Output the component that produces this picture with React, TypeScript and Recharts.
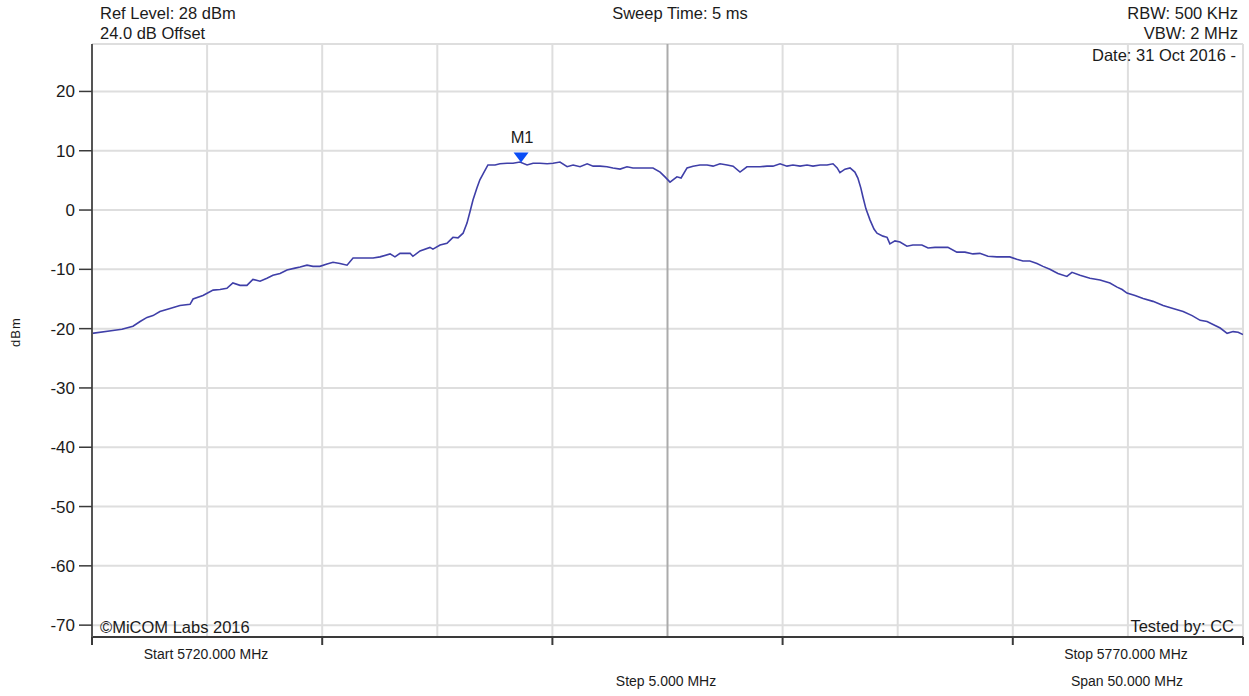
import React from "react";
import {
  LineChart,
  Line,
  XAxis,
  YAxis,
  CartesianGrid,
  ReferenceLine,
  ReferenceDot,
} from "recharts";

// Frequency (MHz) of each trace point
const freqs: number[] = [
  5720.0, 5720.91, 5721.3, 5721.78, 5722.09, 5722.39, 5722.65, 5722.95, 5723.39, 5723.82,
  5724.26, 5724.39, 5724.82, 5725.26, 5725.56, 5725.86, 5726.12, 5726.43, 5726.73, 5726.99,
  5727.3, 5727.6, 5727.86, 5728.17, 5728.47, 5728.82, 5729.04, 5729.34, 5729.6, 5729.9,
  5730.21, 5730.47, 5730.77, 5731.08, 5731.34, 5731.77, 5732.21, 5732.51, 5732.95, 5733.16,
  5733.38, 5733.82, 5733.94, 5734.25, 5734.68, 5734.81, 5735.12, 5735.42, 5735.68, 5735.9,
  5736.12, 5736.29, 5736.42, 5736.55, 5736.72, 5736.85, 5737.03, 5737.2, 5737.51, 5737.72,
  5738.03, 5738.29, 5738.59, 5738.9, 5739.16, 5739.46, 5739.77, 5740.03, 5740.33, 5740.64,
  5740.9, 5741.2, 5741.51, 5741.77, 5742.07, 5742.37, 5742.63, 5742.94, 5743.24, 5743.5,
  5743.81, 5744.11, 5744.37, 5744.68, 5744.89, 5745.11, 5745.28, 5745.41, 5745.59, 5745.85,
  5746.11, 5746.41, 5746.72, 5746.98, 5747.28, 5747.59, 5747.85, 5748.15, 5748.45, 5748.71,
  5749.02, 5749.32, 5749.58, 5749.89, 5750.19, 5750.45, 5750.76, 5751.06, 5751.32, 5751.63,
  5751.93, 5752.19, 5752.37, 5752.49, 5752.71, 5752.93, 5753.14, 5753.27, 5753.4, 5753.49,
  5753.62, 5753.8, 5753.97, 5754.1, 5754.36, 5754.54, 5754.66, 5754.88, 5755.1, 5755.4,
  5755.66, 5756.05, 5756.32, 5756.62, 5757.18, 5757.57, 5757.92, 5758.27, 5758.57, 5758.92,
  5759.31, 5759.87, 5760.17, 5760.44, 5760.74, 5761.05, 5761.31, 5761.61, 5761.96, 5762.35,
  5762.57, 5762.92, 5763.35, 5763.79, 5764.22, 5764.53, 5764.75, 5764.96, 5765.31, 5765.66,
  5766.09, 5766.53, 5766.96, 5767.4, 5767.79, 5768.14, 5768.44, 5768.7, 5769.01, 5769.31,
  5769.57, 5769.79, 5770.0,
];

// Measured level (dBm) of each trace point
const levels: number[] = [
  -20.8, -20.3, -20.1, -19.6, -18.8, -18.1, -17.8, -17.1, -16.6, -16.1,
  -15.9, -15.0, -14.4, -13.5, -13.4, -13.2, -12.3, -12.7, -12.7, -11.7,
  -12.0, -11.5, -11.0, -10.7, -10.1, -9.8, -9.6, -9.3, -9.5, -9.5,
  -9.1, -8.8, -9.0, -9.3, -8.1, -8.1, -8.1, -7.9, -7.4, -7.9,
  -7.3, -7.3, -7.8, -6.9, -6.3, -6.6, -5.9, -5.6, -4.6, -4.7,
  -3.9, -2.2, -0.3, 1.7, 3.7, 5.1, 6.4, 7.6, 7.6, 7.8,
  7.9, 7.9, 8.1, 7.6, 7.9, 7.9, 7.8, 7.9, 8.1, 7.3,
  7.6, 7.3, 7.8, 7.4, 7.4, 7.3, 7.1, 6.9, 7.3, 7.1,
  7.1, 7.1, 7.1, 6.4, 5.6, 4.7, 5.2, 5.6, 5.4, 7.1,
  7.4, 7.6, 7.6, 7.4, 7.8, 7.6, 7.4, 6.4, 7.3, 7.3,
  7.3, 7.4, 7.4, 7.8, 7.4, 7.6, 7.4, 7.6, 7.4, 7.6,
  7.6, 7.8, 7.1, 6.3, 6.9, 7.1, 6.4, 5.4, 3.7, 2.2,
  0.2, -1.7, -3.2, -3.9, -4.4, -4.6, -5.7, -5.2, -5.4, -6.1,
  -5.9, -5.9, -6.4, -6.3, -6.3, -7.1, -7.1, -7.4, -7.3, -7.8,
  -7.9, -7.9, -8.3, -8.6, -8.6, -9.0, -9.5, -10.0, -10.7, -11.2,
  -10.5, -11.0, -11.5, -11.8, -12.3, -13.0, -13.4, -14.0, -14.4, -14.9,
  -15.4, -16.1, -16.6, -17.1, -17.8, -18.6, -18.8, -19.3, -19.9, -20.8,
  -20.5, -20.6, -21.0,
];

const yTicks: number[] = [-70, -60, -50, -40, -30, -20, -10, 0, 10, 20];
const xTicks: number[] = [5720, 5730, 5740, 5750, 5760, 5770];
const xGrid: number[] = [5725, 5730, 5735, 5740, 5750, 5755, 5760, 5765, 5770];
const centerFreq = 5745;
const refLevel = 28;
const bottomLevel = -72;

const marker = { name: "M1", freq: 5738.64, level: 8.0 };

const headerLeft: string[] = ["Ref Level: 28 dBm", "24.0 dB Offset"];
const headerCenter = "Sweep Time: 5 ms";
const headerRight: string[] = ["RBW: 500 KHz", "VBW: 2 MHz", "Date: 31 Oct 2016 -"];
const footerLeft = "©MiCOM Labs 2016";
const footerRight = "Tested by: CC";
const startLabel = "Start 5720.000 MHz";
const stopLabel = "Stop 5770.000 MHz";
const stepLabel = "Step 5.000 MHz";
const spanLabel = "Span 50.000 MHz";
const yLabel = "dBm";

const data = freqs.map((f, i) => ({ f, v: levels[i] }));

const FONT = "'Liberation Sans', Arial, sans-serif";
const TXT = "#1b1b1b";
const GRID = "#dedede";
const AXIS = "#3a3a3a";

const EmptyTick = () => <g />;

const MarkerShape = (props: any) => {
  const { cx, cy } = props;
  if (cx == null || cy == null) return <g />;
  return (
    <g>
      <path
        d={`M ${cx - 7.5} ${cy - 10} L ${cx + 7.5} ${cy - 10} L ${cx} ${cy} Z`}
        fill="#0a4df5"
      />
      <text
        x={cx + 1}
        y={cy - 20}
        textAnchor="middle"
        fontFamily={FONT}
        fontSize={16.5}
        fill={TXT}
      >
        {marker.name}
      </text>
    </g>
  );
};

export default function App() {
  return (
    <div style={{ position: "relative", width: 1249, height: 696, overflow: "hidden" }}>
      <style>{`body{margin:0;}`}</style>
      <LineChart
        width={1249}
        height={696}
        data={data}
        margin={{ top: 44, right: 6, left: 8, bottom: 29 }}
      >
        <CartesianGrid vertical={false} stroke={GRID} strokeWidth={2} />
        <XAxis
          dataKey="f"
          type="number"
          domain={[5720, 5770]}
          ticks={xTicks}
          tick={<EmptyTick />}
          tickSize={8}
          height={30}
          axisLine={{ stroke: AXIS, strokeWidth: 2 }}
          tickLine={{ stroke: AXIS, strokeWidth: 2 }}
          allowDataOverflow
        />
        <YAxis
          type="number"
          domain={[bottomLevel, refLevel]}
          ticks={yTicks}
          width={84}
          tickSize={13}
          tickMargin={4}
          axisLine={{ stroke: "#555555", strokeWidth: 2 }}
          tickLine={{ stroke: AXIS, strokeWidth: 1.5 }}
          tick={{ fill: TXT, fontSize: 17, fontFamily: FONT }}
          allowDataOverflow
        />
        <ReferenceLine y={refLevel} stroke={GRID} strokeWidth={2} />
        {xGrid.map((g) => (
          <ReferenceLine key={g} x={g} stroke={GRID} strokeWidth={2} />
        ))}
        <ReferenceLine x={centerFreq} stroke="#ababab" strokeWidth={2} />
        <Line
          type="linear"
          dataKey="v"
          stroke="#3f3fa8"
          strokeWidth={1.6}
          dot={false}
          isAnimationActive={false}
        />
        <ReferenceDot
          x={marker.freq}
          y={marker.level}
          r={0}
          shape={MarkerShape}
          isFront
        />
      </LineChart>
      <svg
        width={1249}
        height={696}
        style={{ position: "absolute", left: 0, top: 0, pointerEvents: "none" }}
      >
        <g fontFamily={FONT} fill={TXT}>
          <text x={100} y={19} fontSize={16.5}>{headerLeft[0]}</text>
          <text x={100} y={39} fontSize={16.5}>{headerLeft[1]}</text>
          <text x={680} y={19} fontSize={16.5} textAnchor="middle">{headerCenter}</text>
          <text x={1238} y={19} fontSize={16.5} textAnchor="end">{headerRight[0]}</text>
          <text x={1238} y={39} fontSize={16.5} textAnchor="end">{headerRight[1]}</text>
          <text x={1236} y={61} fontSize={16.5} textAnchor="end">{headerRight[2]}</text>
          <text x={100} y={633} fontSize={16.5}>{footerLeft}</text>
          <text x={1234} y={632} fontSize={16.5} textAnchor="end">{footerRight}</text>
          <text x={206} y={659} fontSize={14} textAnchor="middle">{startLabel}</text>
          <text x={1126} y={659} fontSize={14} textAnchor="middle">{stopLabel}</text>
          <text x={666} y={686} fontSize={14} textAnchor="middle">{stepLabel}</text>
          <text x={1127} y={686} fontSize={14} textAnchor="middle">{spanLabel}</text>
          <text
            x={20}
            y={332}
            fontSize={13}
            letterSpacing={1}
            textAnchor="middle"
            transform="rotate(-90 20 332)"
          >
            {yLabel}
          </text>
        </g>
      </svg>
    </div>
  );
}
